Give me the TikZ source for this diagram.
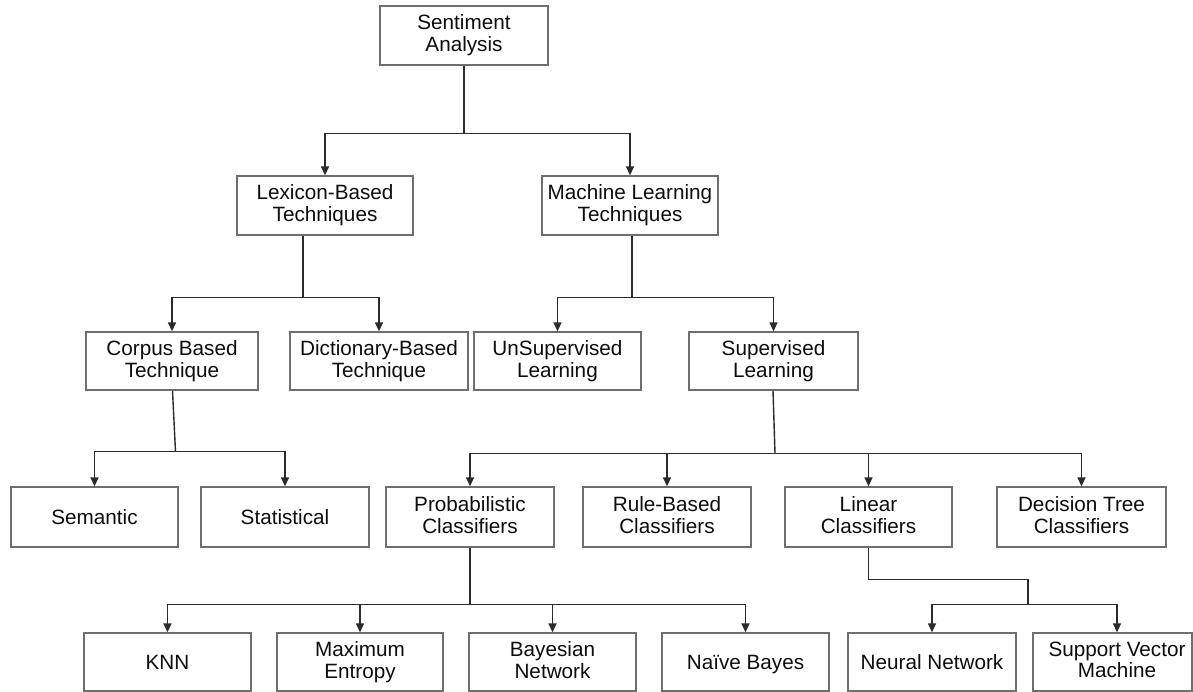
\documentclass[tikz,border=0pt]{standalone}
\usepackage{fontspec}
\setmainfont{Liberation Sans}
\usetikzlibrary{arrows.meta,calc}
\definecolor{boxc}{HTML}{6E6E6E}
\definecolor{linec}{HTML}{2B2B2B}
\definecolor{txtc}{HTML}{0D0D0D}
\tikzset{
 bx/.style={draw=boxc, line width=1.3pt, minimum height=59pt, inner sep=0pt, align=center, text=txtc, font=\fontsize{20.7}{21.7}\selectfont, execute at begin node={\rule{0pt}{19pt}}, execute at end node={\rule[-4.6pt]{0pt}{4.6pt}}},
 arr/.style={draw=linec, line width=1.4pt, -{Triangle[width=8pt,length=9pt]}},
 ln/.style={draw=linec, line width=1.4pt},
}
\begin{document}
\begin{tikzpicture}[x=1pt,y=1pt]
\useasboundingbox[fill=white] (0,0) rectangle (1193,-692);
% row 1
\node[bx, minimum width=168pt] (sa) at (464,-35.5) {Sentiment\\Analysis};
% row 2
\node[bx, minimum width=176pt] (lex) at (325,-205.5) {Lexicon-Based\\Techniques};
\node[bx, minimum width=176pt] (ml) at (630,-205.5) {Machine Learning\\Techniques};
% row 3
\node[bx, minimum width=172pt, minimum height=58pt] (corpus) at (172,-361) {Corpus Based\\Technique};
\node[bx, minimum width=178pt, minimum height=58pt] (dict) at (379,-361) {Dictionary-Based\\Technique};
\node[bx, minimum width=167pt, minimum height=58pt] (unsup) at (557.5,-361) {UnSupervised\\Learning};
\node[bx, minimum width=169pt, minimum height=58pt] (sup) at (773.5,-361) {Supervised\\Learning};
% row 4
\node[bx, minimum width=167pt, minimum height=60pt] (sem) at (94.5,-517) {Semantic};
\node[bx, minimum width=168pt, minimum height=60pt] (stat) at (285,-517) {Statistical};
\node[bx, minimum width=168pt, minimum height=60pt] (prob) at (470,-517) {Probabilistic\\Classifiers};
\node[bx, minimum width=168pt, minimum height=60pt] (rule) at (667,-517) {Rule-Based\\Classifiers};
\node[bx, minimum width=167pt, minimum height=60pt] (lin) at (868.5,-517) {Linear\\Classifiers};
\node[bx, minimum width=169pt, minimum height=60pt] (dec) at (1081.5,-517) {Decision Tree\\Classifiers};
% row 5
\node[bx, minimum width=167pt, minimum height=58pt] (knn) at (167.5,-662) {KNN};
\node[bx, minimum width=166pt, minimum height=58pt] (maxent) at (360,-662) {Maximum\\Entropy};
\node[bx, minimum width=167pt, minimum height=58pt] (bayes) at (552.5,-662) {Bayesian\\Network};
\node[bx, minimum width=167pt, minimum height=58pt] (naive) at (745.5,-662) {Naïve Bayes};
\node[bx, minimum width=168pt, minimum height=58pt] (neural) at (932,-662) {Neural Network};
\node[bx, minimum width=159pt, minimum height=58pt] (svm) at (1112.5,-662) {\hspace*{9pt}Support Vector\\\hspace*{9pt}Machine};
% connectors
\draw[ln] (sa.south) -- ++(0,-68) coordinate (j1);
\draw[arr] (j1) -| (lex.north);
\draw[arr] (j1) -| (ml.north);

\draw[ln] ($(lex.south)+(-22,0)$) -- ++(0,-62) coordinate (j2);
\draw[arr] (j2) -| (corpus.north);
\draw[arr] (j2) -| (dict.north);

\draw[ln] ($(ml.south)+(2,0)$) -- ++(0,-62) coordinate (j3);
\draw[arr] (j3) -| (unsup.north);
\draw[arr] (j3) -| (sup.north);

\draw[ln] ($(corpus.south)+(0.5,0)$) -- ++(3,-61) coordinate (j4);
\draw[arr] (j4) -| (sem.north);
\draw[arr] (j4) -| (stat.north);

\draw[ln] ($(sup.south)+(-0.5,0)$) -- ++(2,-63) coordinate (j5);
\draw[arr] (j5) -| (prob.north);
\draw[arr] (j5) -| (rule.north);
\draw[arr] (j5) -| (lin.north);
\draw[arr] (j5) -| (dec.north);

\draw[ln] (prob.south) -- ++(0,-57) coordinate (j6);
\draw[arr] (j6) -| (knn.north);
\draw[arr] (j6) -| (maxent.north);
\draw[arr] (j6) -| (bayes.north);
\draw[arr] (j6) -| (naive.north);

\draw[ln] (lin.south) -- ++(0,-32) -| ($(lin.south)+(159.5,-57)$) coordinate (j7);
\draw[arr] (j7) -| (neural.north);
\draw[arr] (j7) -| ($(svm.north)+(4.5,0)$);
\end{tikzpicture}
\end{document}
